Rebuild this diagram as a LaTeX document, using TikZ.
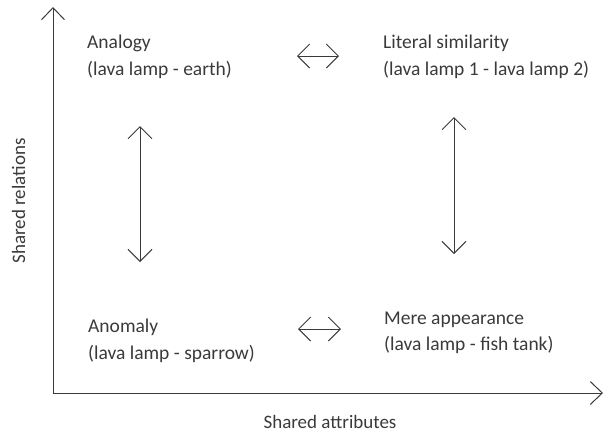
\documentclass[tikz,border=0pt]{standalone}
\usepackage{fontspec}
\setmainfont{Carlito}
\usetikzlibrary{arrows.meta}
\definecolor{ink}{HTML}{3A3A3A}
\tikzset{
  axis/.style={draw=ink, line width=1pt, -{Straight Barb[length=12pt,width=23pt,line width=1pt]}},
  link/.style={draw=ink, line width=1pt, {Straight Barb[length=12pt,width=24pt,line width=1pt]}-{Straight Barb[length=12pt,width=24pt,line width=1pt]}},
  label/.style={text=ink, font=\fontsize{19.5}{26}\selectfont, anchor=base west, inner sep=0pt},
  axlabel/.style={text=ink, font=\fontsize{19}{22}\selectfont, inner sep=0pt}
}
\begin{document}
\begin{tikzpicture}[x=1pt, y=-1pt]
  \useasboundingbox (0,0) rectangle (603,437);
  % axes
  \coordinate (origin) at (53,393);
  \coordinate (ytop) at (53,7);
  \coordinate (xend) at (603,393);
  \draw[axis] (origin) -- (ytop);
  \draw[axis] (origin) -- (xend);
  \node[axlabel, anchor=base] (xlab) at (330,428) {Shared attributes};
  \node[axlabel, anchor=base, rotate=90] (ylab) at (25,201) {Shared relations};
  % quadrant labels, title line and example line
  \node[label] (analogy) at (87,48) {Analogy};
  \node[label] (analogyex) at (87,75) {(lava lamp - earth)};
  \node[label] (literal) at (383,48) {Literal similarity};
  \node[label] (literalex) at (383,75) {(lava lamp 1 - lava lamp 2)};
  \node[label] (anomaly) at (88,332) {Anomaly};
  \node[label] (anomalyex) at (88,359) {(lava lamp - sparrow)};
  \node[label] (mere) at (384,324) {Mere appearance};
  \node[label] (mereex) at (384,350) {(lava lamp - fish tank)};
  % connectors between quadrants
  \coordinate (tl) at (297,56);
  \coordinate (tr) at (339,56);
  \coordinate (bl) at (298,329);
  \coordinate (br) at (341,329);
  \coordinate (lt) at (140,126);
  \coordinate (lb) at (140,262);
  \coordinate (rt) at (454,117);
  \coordinate (rb) at (454,254);
  \draw[link] (tl) -- (tr);
  \draw[link] (bl) -- (br);
  \draw[link] (lt) -- (lb);
  \draw[link] (rt) -- (rb);
\end{tikzpicture}
\end{document}
